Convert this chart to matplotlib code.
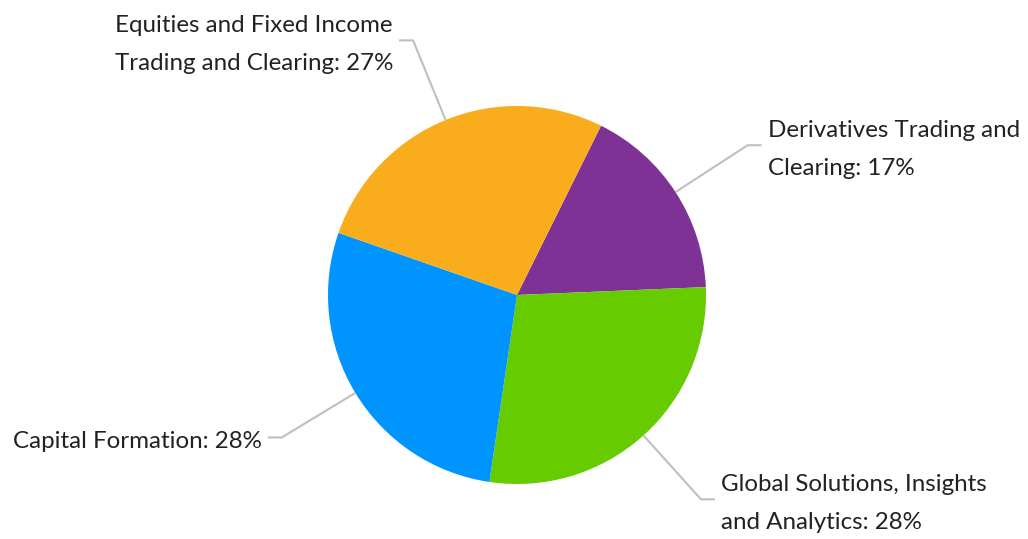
import matplotlib.pyplot as plt
import numpy as np

# segment shares (%), clockwise from the top-right
segments = ['Derivatives Trading and\nClearing',
            'Global Solutions, Insights\nand Analytics',
            'Capital Formation',
            'Equities and Fixed Income\nTrading and Clearing']
shares = [17, 28, 28, 27]
colors = ['#7F3295', '#66CC00', '#0094FF', '#F9AC1C']

plt.rcParams['font.family'] = ['Lato', 'DejaVu Sans']

fig = plt.figure(figsize=(10.28, 5.39), dpi=100)
ax = fig.add_axes([0, 0, 1, 1])

cx, cy, r = 517, 244, 189
wedges, _ = ax.pie(shares, colors=colors, startangle=63.6, counterclock=False,
                   center=(cx, cy), radius=r, frame=True)
ax.set_xlim(0, 1028)
ax.set_ylim(0, 539)
ax.axis('off')

for w, name, val in zip(wedges, segments, shares):
    mid = np.deg2rad((w.theta1 + w.theta2) / 2)
    x0, y0 = cx + r * np.cos(mid), cy + r * np.sin(mid)
    x1, y1 = cx + 1.455 * r * np.cos(mid), cy + 1.455 * r * np.sin(mid)
    side = 1 if np.cos(mid) > 0 else -1
    x2 = x1 + side * 14
    ax.plot([x0, x1, x2], [y0, y1, y1], color='#BFBFBF', lw=1.5,
            solid_capstyle='butt', solid_joinstyle='miter')
    ax.text(x2 + side * 6, y1 - 4, f'{name}: {val}%', fontsize=17.4,
            ha='left' if side > 0 else 'right', va='center',
            multialignment='left', linespacing=2.0, color='#222222')

fig.savefig('out.png', dpi=100)
